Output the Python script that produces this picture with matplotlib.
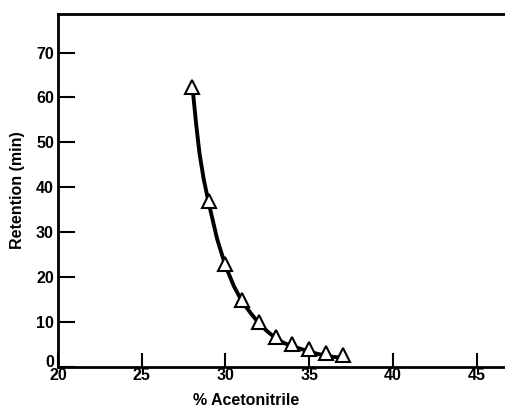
import numpy as np
import matplotlib
matplotlib.use('Agg')
from matplotlib import pyplot as plt
from matplotlib.transforms import ScaledTranslation

# measured points (triangles)
acn = [28, 29, 30, 31, 32, 33, 34, 35, 36, 37]
retention = [62.3, 36.9, 22.9, 15.0, 9.9, 6.6, 5.0, 4.0, 3.1, 2.6]

# fitted curve
curve_x = [28.05, 28.25, 28.45, 28.7, 29.0, 29.5, 30.0, 30.5, 31.0, 31.5, 32.0, 32.5, 33.0, 33.5, 34.0, 34.5, 35.0, 35.5, 36.0, 36.5, 37.2]
curve_y = [61.5, 54.0, 47.5, 41.8, 36.5, 28.5, 22.5, 18.0, 14.5, 12.0, 9.7, 7.9, 6.4, 5.3, 4.6, 4.0, 3.4, 2.9, 2.5, 2.2, 2.0]

xticks = [20, 25, 30, 35, 40, 45]
yticks = [0, 10, 20, 30, 40, 50, 60, 70]

plt.rcParams['font.family'] = ['Liberation Sans', 'DejaVu Sans']
plt.rcParams['font.weight'] = 'bold'

fig = plt.figure(figsize=(5.05, 4.09), dpi=100)
ax = fig.add_axes([0.115, 0.103, 0.885, 0.863])

ax.plot(curve_x, curve_y, color='black', lw=2.8, solid_capstyle='round', zorder=2)
ax.plot(acn, retention, linestyle='none', marker='^', markersize=10,
        markerfacecolor='white', markeredgecolor='black', markeredgewidth=1.5, zorder=3)

ax.set_xlim(20, 46.7)
ax.set_ylim(0, 78.6)
ax.set_xticks(xticks)
ax.set_yticks(yticks)
ax.tick_params(direction='in', length=10, width=1.5, labelsize=11.5)
ax.tick_params(axis='y', length=12)
ax.tick_params(axis='x', pad=1)
ax.tick_params(axis='y', pad=3)

# the 0 label sits a bit above the x axis
lab0 = ax.get_yticklabels()[0]
lab0.set_transform(lab0.get_transform() + ScaledTranslation(0, 4 / 72, fig.dpi_scale_trans))

for s in ['left', 'top', 'bottom']:
    ax.spines[s].set_linewidth(2)
ax.spines['right'].set_visible(False)

ax.set_xlabel('% Acetonitrile', fontsize=11.5, fontweight='bold')
ax.set_ylabel('Retention (min)', fontsize=11.5, fontweight='bold')
ax.xaxis.set_label_coords(0.42, -0.075)
ax.yaxis.set_label_coords(-0.075, 0.5)

fig.savefig('out.png', dpi=100)
